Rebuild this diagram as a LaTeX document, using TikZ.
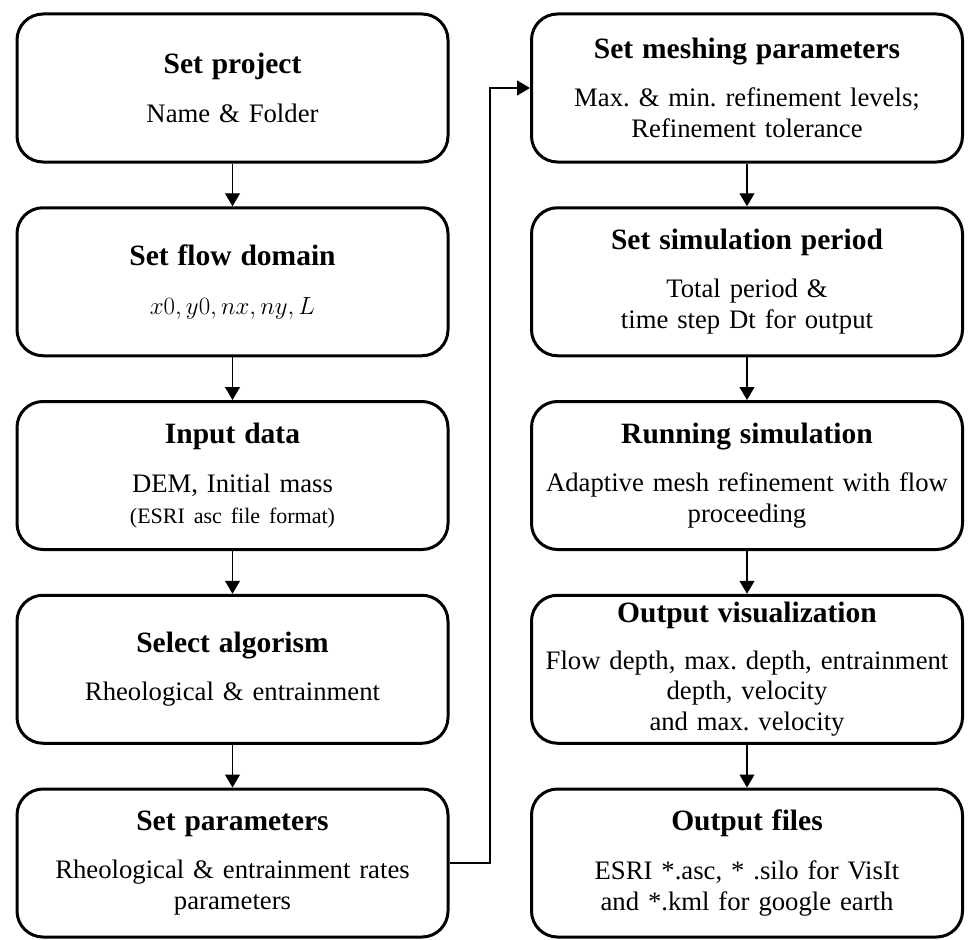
\documentclass[tikz,border=0pt]{standalone}
\usepackage{fontspec}
\setmainfont{Liberation Serif}
\usepackage{tikz}
\usetikzlibrary{arrows.meta,calc,positioning}
\frenchspacing

\newcommand{\stepbody}{\fontsize{26.7}{30.7}\selectfont}
\newcommand{\steptitle}[1]{{\fontsize{29.5}{34}\selectfont\bfseries #1}}
\newcommand{\stepsmall}[1]{{\fontsize{22}{26}\selectfont #1}}

\begin{document}
\begin{tikzpicture}[
  x=1pt, y=1pt,
  >={Triangle[width=15pt,length=13pt]},
  node distance=42.75pt and 80.5pt,
  every node/.style={text=black},
  stepbox/.style={draw=black, line width=3pt, rounded corners=26pt,
    minimum width=431pt, minimum height=148pt, text width=425pt,
    inner sep=3pt, align=center, font=\stepbody},
  edge/.style={->, line width=1.2pt, draw=black}
]

\useasboundingbox (0,0) rectangle (968,-939);

% ---- left column ----
\node[stepbox] (proj) at (232.5,-88) {\steptitle{Set project}\\[18pt]
  Name \& Folder};
\node[stepbox] (domain) [below=of proj] {\steptitle{Set flow domain}\\[18pt]
  $x0, y0, nx, ny, L$};
\node[stepbox] (input) [below=of domain] {\steptitle{Input data}\\[18pt]
  DEM, Initial mass\\ \stepsmall{(ESRI asc file format)}};
\node[stepbox] (algo) [below=of input] {\steptitle{Select algorism}\\[18pt]
  Rheological \& entrainment};
\node[stepbox] (params) [below=of algo] {\steptitle{Set parameters}\\[18pt]
  Rheological \& entrainment rates\\ parameters};

% ---- right column ----
\node[stepbox] (mesh) [right=of proj] {\steptitle{Set meshing parameters}\\[17pt]
  Max. \& min. refinement levels;\\ Refinement tolerance};
\node[stepbox] (period) [below=of mesh] {\steptitle{Set simulation period}\\[17pt]
  Total period \&\\ time step Dt for output};
\node[stepbox] (run) [below=of period] {\steptitle{Running simulation}\\[17pt]
  Adaptive mesh refinement with flow\\ proceeding};
\node[stepbox] (vis) [below=of run] {\steptitle{Output visualization}\\[16pt]
  Flow depth, max. depth, entrainment\\ depth, velocity\\ and max. velocity};
\node[stepbox] (files) [below=of vis] {\steptitle{Output files}\\[18pt]
  ESRI *.asc, * .silo for VisIt\\ and *.kml for google earth};

% ---- edges: left column ----
\draw[edge] (proj) -- (domain);
\draw[edge] (domain) -- (input);
\draw[edge] (input) -- (algo);
\draw[edge] (algo) -- (params);

% ---- edges: right column ----
\draw[edge] (mesh) -- (period);
\draw[edge] (period) -- (run);
\draw[edge] (run) -- (vis);
\draw[edge] (vis) -- (files);

% ---- edge: link between columns ----
\draw[edge] (params.east) -- ++(40.5,0) |- (mesh.west);

\end{tikzpicture}
\end{document}
